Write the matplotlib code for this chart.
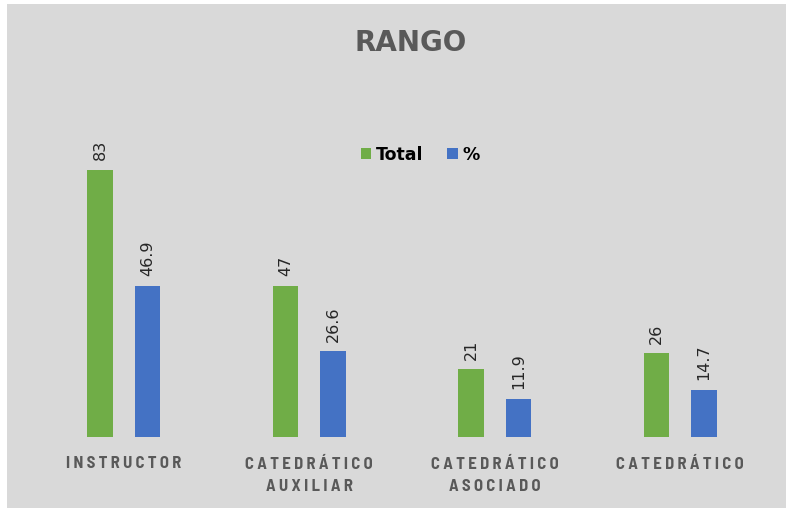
import matplotlib.pyplot as plt
from matplotlib.patches import Rectangle
import numpy as np

categories = ["INSTRUCTOR", "CATEDRÁTICO\nAUXILIAR", "CATEDRÁTICO\nASOCIADO", "CATEDRÁTICO"]
total = [83, 47, 21, 26]
pct = [46.9, 26.6, 11.9, 14.7]

GREEN = "#70ad47"
BLUE = "#4472c4"
GREY_BG = "#d9d9d9"
TEXT_GREY = "#595959"
LABEL_FONTS = ["Barlow Semi Condensed", "Roboto", "DejaVu Sans"]


def spaced(s, sep="\u2009"):
    # fake letter spacing
    return "\n".join(sep.join(line) for line in s.split("\n"))


fig = plt.figure(figsize=(7.86, 5.08), dpi=100)
fig.patch.set_facecolor("white")
fig.patches.append(Rectangle((7 / 786, 0), 1, 504 / 508, transform=fig.transFigure,
                             facecolor=GREY_BG, edgecolor="none", zorder=-5))

ax = fig.add_axes([31 / 786, 71 / 508, 742 / 786, 322 / 508])
ax.set_facecolor("none")

x = np.arange(len(categories))
w = 0.135
off = 0.128
b1 = ax.bar(x - off, total, w, color=GREEN, label="Total")
b2 = ax.bar(x + off, pct, w, color=BLUE, label="%")

for bars, vals in [(b1, total), (b2, pct)]:
    for rect, v in zip(bars, vals):
        ax.annotate(f"{v:g}", (rect.get_x() + rect.get_width() / 2, rect.get_height()),
                    xytext=(0, 7), textcoords="offset points", rotation=90,
                    ha="center", va="bottom", fontsize=11.5, color="#262626")

ax.set_xlim(-0.5, len(categories) - 0.5)
ax.set_ylim(0, 100)
ax.set_yticks([])
ax.set_xticks(x)
ax.set_xticklabels([spaced(c) for c in categories], fontsize=12, fontweight="bold",
                   family=LABEL_FONTS, color=TEXT_GREY, linespacing=1.65)
ax.tick_params(axis="x", length=0, pad=14)
for s in ax.spines.values():
    s.set_visible(False)

fig.text(411 / 786, 1 - 43 / 508, "RANGO", ha="center", va="center",
         fontsize=20, fontweight="bold", color=TEXT_GREY)

leg = fig.legend(loc="center", bbox_to_anchor=(420 / 786, 1 - 155 / 508), ncol=2,
                 frameon=False, handlelength=0.6, handleheight=0.6, handletextpad=0.25,
                 columnspacing=1.4, prop={"size": 12.5, "weight": "bold"})

fig.savefig("out.png", dpi=100)
